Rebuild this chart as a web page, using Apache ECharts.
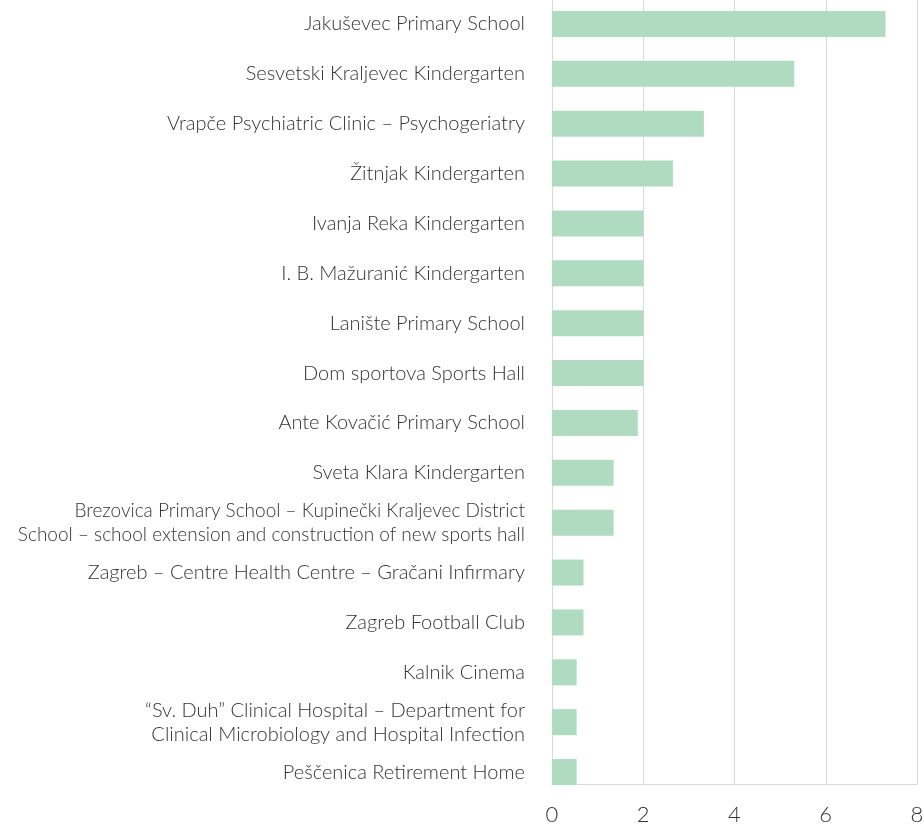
<!DOCTYPE html>
<html>
<head>
<meta charset="utf-8">
<script src="https://cdn.jsdelivr.net/npm/echarts@6/dist/echarts.min.js"></script>
<style>
html,body{margin:0;padding:0;background:#fff;}
#chart{width:923px;height:827px;}
</style>
</head>
<body>
<div id="chart"></div>
<script>
const categories = [
  "Jakuševec Primary School",
  "Sesvetski Kraljevec Kindergarten",
  "Vrapče Psychiatric Clinic – Psychogeriatry",
  "Žitnjak Kindergarten",
  "Ivanja Reka Kindergarten",
  "I. B. Mažuranić Kindergarten",
  "Lanište Primary School",
  "Dom sportova Sports Hall",
  "Ante Kovačić Primary School",
  "Sveta Klara Kindergarten",
  "Brezovica Primary School – Kupinečki Kraljevec District\nSchool – school extension and construction of new sports hall",
  "Zagreb – Centre Health Centre – Gračani Infirmary",
  "Zagreb Football Club",
  "Kalnik Cinema",
  "“Sv. Duh” Clinical Hospital – Department for\nClinical Microbiology and Hospital Infection",
  "Peščenica Retirement Home"
];
const values = [7.31, 5.31, 3.33, 2.65, 2.0, 2.0, 2.0, 2.0, 1.88, 1.35, 1.35, 0.69, 0.69, 0.54, 0.54, 0.54];
const xTicks = { min: 0, max: 8, interval: 2 };

const FONT = 'Lato';
const chart = echarts.init(document.getElementById('chart'));
chart.setOption({
  animation: false,
  backgroundColor: '#fff',
  grid: [
    { left: 552, right: 6, top: -1, height: 798, containLabel: false, outerBoundsMode: 'none' },
    { left: 552, right: 6, top: 0, height: 784, containLabel: false, outerBoundsMode: 'none' }
  ],
  xAxis: [
    { gridIndex: 0, type: 'value', min: xTicks.min, max: xTicks.max, interval: xTicks.interval,
      axisLine: { show: false }, axisTick: { show: false }, axisLabel: { show: false }, splitLine: { show: false } },
    { gridIndex: 1, type: 'value', min: xTicks.min, max: xTicks.max, interval: xTicks.interval,
      axisLine: { show: true, lineStyle: { color: '#d9d9d9', width: 1 } },
      axisTick: { show: false },
      axisLabel: { color: '#333', fontFamily: FONT, fontWeight: 300, fontSize: 22, margin: 20 },
      splitLine: { show: true, lineStyle: { color: '#d9d9d9', width: 1 } } }
  ],
  yAxis: [
    { gridIndex: 0, type: 'category', data: categories, inverse: true,
      axisLine: { show: false }, axisTick: { show: false },
      axisLabel: {
        color: '#333', fontFamily: FONT, fontWeight: 300, fontSize: 20, lineHeight: 24, margin: 27, align: 'right',
        formatter: function (v) {
          return v.split('\n').map(function (line) {
            return line.length > 50 ? '{s|' + line + '}' : '{n|' + line + '}';
          }).join('\n');
        },
        rich: {
          n: { fontFamily: FONT, fontWeight: 300, fontSize: 20, lineHeight: 24, color: '#333', align: 'right' },
          s: { fontFamily: FONT, fontWeight: 300, fontSize: 19, lineHeight: 24, color: '#333', align: 'right' }
        }
      } },
    { gridIndex: 1, type: 'value', show: false }
  ],
  series: [
    { type: 'bar', xAxisIndex: 0, yAxisIndex: 0, data: values, barWidth: 26,
      itemStyle: { color: '#afdbc0' }, silent: true }
  ]
});
</script>
</body>
</html>
